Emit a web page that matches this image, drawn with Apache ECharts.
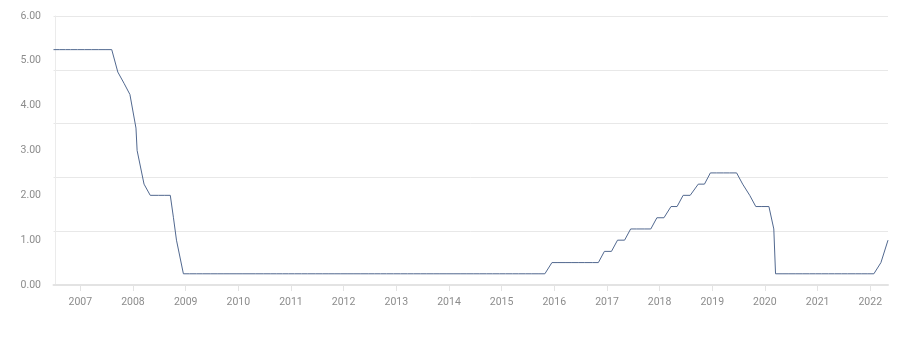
<!DOCTYPE html>
<html>
<head>
<meta charset="utf-8">
<script src="https://cdn.jsdelivr.net/npm/echarts@6/dist/echarts.min.js"></script>
<style>
html,body{margin:0;padding:0;background:#fff;}
#chart{width:910px;height:343px;}
</style>
</head>
<body>
<div id="chart"></div>
<script>
// FOMC decision dates and the upper bound of the Fed funds target (%)
const meetingDates = [
  '2006-06-29','2006-08-08','2006-09-20','2006-10-25','2006-12-12',
  '2007-01-31','2007-03-21','2007-05-09','2007-06-28','2007-08-07','2007-09-18','2007-10-31','2007-12-11',
  '2008-01-22','2008-01-30','2008-03-18','2008-04-30','2008-06-25','2008-08-05','2008-09-16','2008-10-08','2008-10-29','2008-12-16',
  '2009-01-28','2009-03-18','2009-04-29','2009-06-24','2009-08-12','2009-09-23','2009-11-04','2009-12-16',
  '2010-01-27','2010-03-16','2010-04-28','2010-06-23','2010-08-10','2010-09-21','2010-11-03','2010-12-14',
  '2011-01-26','2011-03-15','2011-04-27','2011-06-22','2011-08-09','2011-09-21','2011-11-02','2011-12-13',
  '2012-01-25','2012-03-13','2012-04-25','2012-06-20','2012-08-01','2012-09-13','2012-10-24','2012-12-12',
  '2013-01-30','2013-03-20','2013-05-01','2013-06-19','2013-07-31','2013-09-18','2013-10-30','2013-12-18',
  '2014-01-29','2014-03-19','2014-04-30','2014-06-18','2014-07-30','2014-09-17','2014-10-29','2014-12-17',
  '2015-01-28','2015-03-18','2015-04-29','2015-06-17','2015-07-29','2015-09-17','2015-10-28','2015-12-16',
  '2016-01-27','2016-03-16','2016-04-27','2016-06-15','2016-07-27','2016-09-21','2016-11-02','2016-12-14',
  '2017-02-01','2017-03-15','2017-05-03','2017-06-14','2017-07-26','2017-09-20','2017-11-01','2017-12-13',
  '2018-01-31','2018-03-21','2018-05-02','2018-06-13','2018-08-01','2018-09-26','2018-11-08','2018-12-19',
  '2019-01-30','2019-03-20','2019-05-01','2019-06-19','2019-07-31','2019-09-18','2019-10-30','2019-12-11',
  '2020-01-29','2020-03-03','2020-03-15','2020-04-29','2020-06-10','2020-07-29','2020-09-16','2020-11-05','2020-12-16',
  '2021-01-27','2021-03-17','2021-04-28','2021-06-16','2021-07-28','2021-09-22','2021-11-03','2021-12-15',
  '2022-01-26','2022-03-16','2022-05-04'
];
const upperRate = [
  5.25,5.25,5.25,5.25,5.25,
  5.25,5.25,5.25,5.25,5.25,4.75,4.50,4.25,
  3.50,3.00,2.25,2.00,2.00,2.00,2.00,1.50,1.00,0.25,
  0.25,0.25,0.25,0.25,0.25,0.25,0.25,0.25,
  0.25,0.25,0.25,0.25,0.25,0.25,0.25,0.25,
  0.25,0.25,0.25,0.25,0.25,0.25,0.25,0.25,
  0.25,0.25,0.25,0.25,0.25,0.25,0.25,0.25,
  0.25,0.25,0.25,0.25,0.25,0.25,0.25,0.25,
  0.25,0.25,0.25,0.25,0.25,0.25,0.25,0.25,
  0.25,0.25,0.25,0.25,0.25,0.25,0.25,0.50,
  0.50,0.50,0.50,0.50,0.50,0.50,0.50,0.75,
  0.75,1.00,1.00,1.25,1.25,1.25,1.25,1.50,
  1.50,1.75,1.75,2.00,2.00,2.25,2.25,2.50,
  2.50,2.50,2.50,2.50,2.25,2.00,1.75,1.75,
  1.75,1.25,0.25,0.25,0.25,0.25,0.25,0.25,0.25,
  0.25,0.25,0.25,0.25,0.25,0.25,0.25,0.25,
  0.25,0.50,1.00
];
const yearTicks = [2007,2008,2009,2010,2011,2012,2013,2014,2015,2016,2017,2018,2019,2020,2021,2022];
const yLabels = [0,1,2,3,4,5,6];

function toTime(s){ const p = s.split('-').map(Number); return Date.UTC(p[0], p[1]-1, p[2]); }
const seriesData = meetingDates.map((d,i) => [toTime(d), upperRate[i]]);
const yearTimes = yearTicks.map(y => Date.UTC(y,0,1));

const chart = echarts.init(document.getElementById('chart'), null, {renderer:'canvas'});
chart.setOption({
  animation: false,
  backgroundColor: '#fff',
  grid: {left: 53.5, right: 22, top: 16, bottom: 58, containLabel: false},
  xAxis: {
    type: 'value',
    min: seriesData[0][0],
    max: seriesData[seriesData.length-1][0],
    axisLine: {show: true, lineStyle: {color: '#e3e3e3', width: 2}},
    axisTick: {show: true, length: 6, customValues: yearTimes, lineStyle: {color: '#e3e3e3', width: 1}},
    axisLabel: {
      customValues: yearTimes,
      color: '#8c8c8c', fontFamily: 'Roboto', fontSize: 10.5, margin: 12,
      formatter: v => String(new Date(v).getUTCFullYear())
    },
    splitLine: {show: false}
  },
  yAxis: [{
    type: 'value',
    min: 0, max: 6, interval: 1.2,
    axisLine: {show: false},
    axisTick: {show: false},
    axisLabel: {
      customValues: yLabels,
      color: '#8c8c8c', fontFamily: 'Roboto', fontSize: 10.5, margin: 12.5,
      formatter: v => Number(v).toFixed(2)
    },
    splitLine: {show: true, lineStyle: {color: '#e8e8e8', width: 1}}
  }, {
    type: 'value',
    position: 'left',
    offset: -1.5,
    min: 0, max: 6, interval: 1.2,
    axisLine: {show: true, lineStyle: {color: '#ebebeb', width: 1}},
    axisTick: {show: false},
    axisLabel: {show: false},
    splitLine: {show: false}
  }],
  series: [{
    type: 'line',
    data: seriesData,
    yAxisIndex: 0,
    showSymbol: false,
    symbol: 'none',
    lineStyle: {color: '#51688f', width: 1},
    z: 3
  }]
});
</script>
</body>
</html>
